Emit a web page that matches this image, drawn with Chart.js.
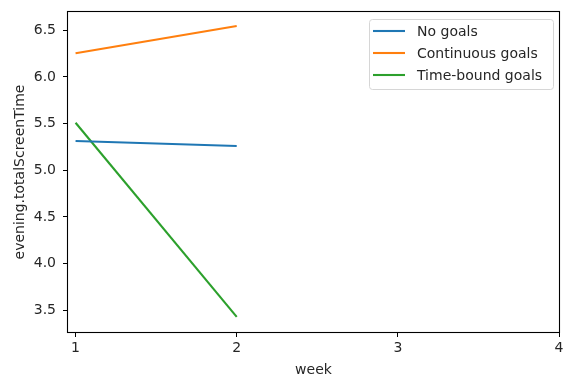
<!DOCTYPE html>
<html>
<head>
<meta charset="utf-8">
<script src="https://cdn.jsdelivr.net/npm/chart.js@4"></script>
<style>
  html, body { margin: 0; padding: 0; background: #fff; }
  #c { display: block; }
</style>
</head>
<body>
<canvas id="c" width="563" height="380"></canvas>
<script>
// Weeks and mean evening screen time per group
const weeks = [1, 2];
const noGoals = [5.314, 5.26];
const continuousGoals = [6.254, 6.546];
const timeBoundGoals = [5.51, 3.43];
const seriesNames = ['No goals', 'Continuous goals', 'Time-bound goals'];
const xTicks = [1, 2, 3, 4];
const yTicks = [3.5, 4.0, 4.5, 5.0, 5.5, 6.0, 6.5];

const colors = ['#1f77b4', '#ff7f0e', '#2ca02c'];
const FONT = 'DejaVu Sans';
const FS = 14;
const TEXT = '#262626';

function pts(vals) { return weeks.map((w, i) => ({ x: w, y: vals[i] })); }

// Box around the whole plotting area
const framePlugin = {
  id: 'frame',
  afterDatasetsDraw(chart) {
    const { ctx, chartArea: a } = chart;
    ctx.save();
    ctx.strokeStyle = '#000';
    ctx.lineWidth = 1.1;
    ctx.strokeRect(Math.round(a.left) - 0.5, Math.round(a.top) - 0.5,
                   Math.round(a.right - a.left) + 1, Math.round(a.bottom - a.top) + 1);
    ctx.restore();
  }
};

// Legend drawn inside the plot, upper right
const innerLegend = {
  id: 'innerLegend',
  afterDraw(chart) {
    const { ctx, chartArea: a } = chart;
    const ds = chart.data.datasets;
    const rowH = 22, padL = 4, padR = 6, lineLen = 32, gap = 12;
    ctx.save();
    ctx.font = FS + 'px "' + FONT + '"';
    let tw = 0;
    ds.forEach(d => { tw = Math.max(tw, ctx.measureText(d.label).width); });
    const w = Math.max(184, padL + lineLen + gap + tw + padR);
    const h = 70;
    const x = a.right - 6 - w;
    const y = a.top + 7;
    ctx.beginPath();
    ctx.roundRect(x + 0.5, y + 0.5, w, h, 3);
    ctx.fillStyle = 'rgba(255,255,255,0.8)';
    ctx.fill();
    ctx.strokeStyle = '#d6d6d6';
    ctx.lineWidth = 1;
    ctx.stroke();
    ds.forEach((d, i) => {
      const cy = y + 12 + i * rowH;
      ctx.beginPath();
      ctx.moveTo(x + padL, cy);
      ctx.lineTo(x + padL + lineLen, cy);
      ctx.strokeStyle = d.borderColor;
      ctx.lineWidth = 2.1;
      ctx.stroke();
      ctx.fillStyle = TEXT;
      ctx.textBaseline = 'middle';
      ctx.textAlign = 'left';
      ctx.fillText(d.label, x + padL + lineLen + gap, cy + 1);
    });
    ctx.restore();
  }
};

new Chart(document.getElementById('c'), {
  type: 'line',
  data: {
    datasets: [noGoals, continuousGoals, timeBoundGoals].map((vals, i) => ({
      label: seriesNames[i],
      data: pts(vals),
      borderColor: colors[i],
      backgroundColor: colors[i],
      borderWidth: 2.1,
      pointRadius: 0,
      tension: 0,
      fill: false
    }))
  },
  options: {
    responsive: false,
    animation: false,
    devicePixelRatio: 1,
    layout: { padding: { left: 0, top: 12, right: 4, bottom: 0 } },
    plugins: {
      legend: { display: false },
      tooltip: { enabled: false }
    },
    scales: {
      x: {
        type: 'linear',
        min: 0.953,
        max: 4,
        afterBuildTicks(s) { s.ticks = xTicks.map(v => ({ value: v })); },
        afterFit(s) { s.height = 48; s.paddingRight = 0; s.paddingLeft = 0; },
        grid: { drawOnChartArea: false, drawTicks: true, tickLength: 5, color: '#000' },
        border: { display: false },
        ticks: {
          font: { family: FONT, size: FS },
          color: TEXT,
          padding: 3,
          maxRotation: 0,
          callback: v => String(v)
        },
        title: {
          display: true,
          text: 'week',
          font: { family: FONT, size: FS },
          color: TEXT,
          padding: { top: 0, bottom: 1 }
        }
      },
      y: {
        type: 'linear',
        min: 3.268,
        max: 6.696,
        afterBuildTicks(s) { s.ticks = yTicks.map(v => ({ value: v })); },
        afterFit(s) { s.width = 68; s.paddingTop = 0; s.paddingBottom = 0; },
        grid: { drawOnChartArea: false, drawTicks: true, tickLength: 5, color: '#000' },
        border: { display: false },
        ticks: {
          font: { family: FONT, size: FS },
          color: TEXT,
          padding: 7,
          callback: v => v.toFixed(1)
        },
        title: {
          display: true,
          text: 'evening.totalScreenTime',
          font: { family: FONT, size: FS },
          color: TEXT,
          padding: { top: 12, bottom: 0 }
        }
      }
    }
  },
  plugins: [framePlugin, innerLegend]
});
</script>
</body>
</html>
